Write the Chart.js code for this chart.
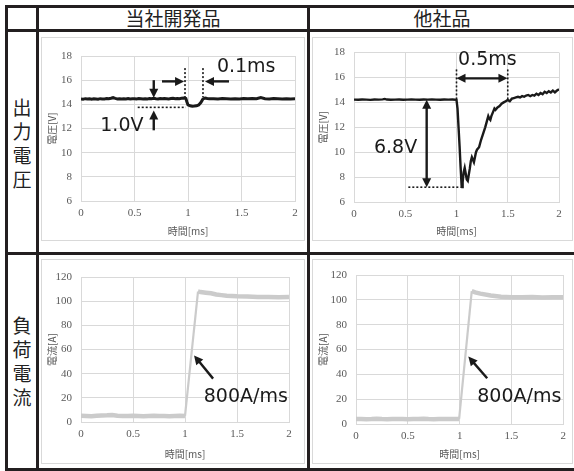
<!DOCTYPE html>
<html><head><meta charset="utf-8">
<script src="https://cdn.jsdelivr.net/npm/chart.js@4"></script>
<style>
body{margin:0;background:#fff;}
#wrap{position:relative;width:574px;height:471px;overflow:hidden;font-family:"Noto Sans CJK JP";}
.hl{position:absolute;background:#231f20;height:3px;}
.vl{position:absolute;background:#231f20;width:3px;}
.panel{position:absolute;border:1px solid #d9d9d9;box-sizing:border-box;background:#fff;}
canvas.c{position:absolute;}
.hdr{position:absolute;font-size:19px;color:#222;text-align:center;line-height:24px;}
</style></head>
<body>
<div id="wrap">
  <div class="panel" style="left:41px;top:37px;width:264px;height:204px"></div>
  <div class="panel" style="left:312px;top:37px;width:261px;height:204px"></div>
  <div class="panel" style="left:41px;top:259px;width:264px;height:205px"></div>
  <div class="panel" style="left:312px;top:259px;width:261px;height:205px"></div>
  <canvas class="c" id="tl" width="263" height="203" style="left:41px;top:37px"></canvas>
  <canvas class="c" id="tr" width="260" height="203" style="left:312px;top:37px"></canvas>
  <canvas class="c" id="bl" width="263" height="204" style="left:41px;top:259px"></canvas>
  <canvas class="c" id="br" width="260" height="204" style="left:312px;top:259px"></canvas>

  <div class="hl" style="left:5px;top:5px;width:569px"></div>
  <div class="hl" style="left:5px;top:29px;width:569px"></div>
  <div class="hl" style="left:5px;top:252px;width:569px"></div>
  <div class="hl" style="left:5px;top:468px;width:569px"></div>
  <div class="vl" style="left:5px;top:5px;height:466px"></div>
  <div class="vl" style="left:36px;top:5px;height:466px"></div>
  <div class="vl" style="left:307px;top:5px;height:466px"></div>

  <div class="hdr" style="left:39px;top:6px;width:268px;">当社開発品</div>
  <div class="hdr" style="left:310px;top:6px;width:264px;">他社品</div>
  <div class="hdr" style="left:8px;top:95px;width:28px;">出<br>力<br>電<br>圧</div>
  <div class="hdr" style="left:8px;top:313px;width:28px;">負<br>荷<br>電<br>流</div>
</div>
<script>
// ---- data ----
const xTicks = [0, 0.5, 1, 1.5, 2];
const voltTicks = [6, 8, 10, 12, 14, 16, 18];
const currTicks = [0, 20, 40, 60, 80, 100, 120];

const tlTime = [0,0.02,0.04,0.06,0.08,0.10,0.12,0.14,0.16,0.18,0.20,0.22,0.24,0.26,0.28,0.30,0.32,0.34,0.36,0.38,0.40,0.42,0.44,0.46,0.48,0.50,0.52,0.54,0.56,0.58,0.60,0.62,0.64,0.66,0.68,0.70,0.72,0.74,0.76,0.78,0.80,0.82,0.84,0.86,0.88,0.90,0.92,0.94,0.96,0.98,0.99,1.00,1.02,1.04,1.06,1.08,1.10,1.12,1.14,1.16,1.18,1.20,1.24,1.28,1.32,1.36,1.40,1.44,1.48,1.52,1.56,1.60,1.64,1.68,1.72,1.76,1.80,1.84,1.88,1.92,1.96,2.00];
const tlVolt = [14.45,14.43,14.47,14.44,14.46,14.42,14.46,14.45,14.43,14.47,14.45,14.44,14.48,14.46,14.50,14.55,14.49,14.45,14.47,14.44,14.46,14.45,14.48,14.44,14.46,14.47,14.45,14.48,14.46,14.44,14.47,14.45,14.48,14.46,14.50,14.47,14.45,14.48,14.46,14.49,14.47,14.45,14.48,14.50,14.47,14.49,14.47,14.50,14.52,14.48,14.20,13.95,13.88,13.85,13.86,13.88,13.95,14.15,14.45,14.52,14.48,14.46,14.47,14.45,14.48,14.46,14.44,14.47,14.45,14.48,14.46,14.49,14.47,14.56,14.47,14.45,14.48,14.46,14.44,14.47,14.45,14.46];

const trTime = [0,0.04,0.08,0.12,0.16,0.20,0.24,0.28,0.30,0.32,0.36,0.40,0.44,0.48,0.52,0.56,0.60,0.64,0.68,0.72,0.76,0.80,0.84,0.88,0.92,0.96,1.00,1.01,1.02,1.03,1.04,1.05,1.055,1.06,1.07,1.08,1.09,1.10,1.11,1.12,1.13,1.14,1.15,1.16,1.17,1.18,1.19,1.20,1.22,1.23,1.24,1.26,1.28,1.30,1.31,1.32,1.33,1.34,1.35,1.37,1.38,1.40,1.42,1.44,1.46,1.48,1.50,1.52,1.54,1.56,1.58,1.60,1.62,1.64,1.66,1.68,1.70,1.72,1.74,1.76,1.78,1.80,1.82,1.84,1.86,1.88,1.90,1.92,1.94,1.96,1.98,2.00];
const trVolt = [14.22,14.21,14.23,14.22,14.20,14.23,14.22,14.24,14.28,14.23,14.21,14.22,14.23,14.21,14.22,14.24,14.22,14.21,14.23,14.22,14.24,14.22,14.21,14.23,14.22,14.23,14.20,13.5,12.0,10.5,8.8,7.3,7.2,7.6,8.4,8.75,8.3,7.8,7.7,8.2,8.7,9.3,9.6,9.4,9.2,9.6,10.0,10.2,10.4,10.7,11.0,11.5,12.0,12.6,12.9,12.7,12.6,12.9,13.1,13.5,13.4,13.6,13.7,13.9,14.0,14.1,14.2,14.1,14.3,14.35,14.4,14.45,14.4,14.5,14.45,14.55,14.6,14.5,14.6,14.55,14.7,14.6,14.75,14.65,14.85,14.75,14.9,14.8,14.95,14.8,14.95,15.05];

const blTime = [0,0.05,0.10,0.15,0.20,0.25,0.30,0.35,0.40,0.45,0.50,0.55,0.60,0.65,0.70,0.75,0.80,0.85,0.90,0.95,1.00,1.125,1.15,1.20,1.25,1.30,1.35,1.40,1.50,1.60,1.70,1.80,1.90,2.00];
const blCurr = [5.2,5.0,4.8,5.1,5.3,5.5,5.8,5.2,5.0,4.9,5.1,5.0,4.8,5.0,5.2,4.9,5.0,4.8,5.0,5.1,5.0,108,107.5,107,106.5,105.5,105,104.5,104,103.8,103.5,103.5,103.2,103.5];

const brTime = [0,0.05,0.10,0.15,0.20,0.25,0.30,0.35,0.40,0.45,0.50,0.55,0.60,0.65,0.70,0.75,0.80,0.85,0.90,0.95,0.995,1.117,1.15,1.20,1.30,1.40,1.50,1.60,1.70,1.80,1.90,2.00];
const brCurr = [4.0,4.1,3.9,4.0,4.2,4.0,3.9,4.1,4.0,4.0,3.9,4.1,4.0,4.2,4.0,3.9,4.0,4.1,4.0,4.0,4.0,107,106,105,103.5,102.5,102,102,102.2,101.8,102,102];

// ---- annotations (data units) ----
const tlNotes = {
  dotted: [[0.53,13.75,0.98,13.75],[0.972,17.0,0.972,14.6],[1.14,17.0,1.14,14.6]],
  arrows: [[0.68,16.0,0.68,14.55,'end'],[0.68,11.85,0.68,13.5,'end'],[0.757,15.9,0.963,15.9,'end'],[1.383,15.9,1.159,15.9,'end']],
  texts: [['1.0V',0.18,11.77],['0.1ms',1.27,16.68]]
};
const trNotes = {
  dotted: [[1.0,16.65,1.0,14.25],[1.5,16.65,1.5,14.25],[0.53,7.19,1.05,7.19]],
  arrows: [[1.0,15.93,1.497,15.93,'both'],[0.709,14.22,0.709,7.19,'both']],
  texts: [['0.5ms',1.015,17.0],['6.8V',0.195,9.97]]
};
const blNotes = { dotted: [], arrows: [[1.27,35.9,1.087,55.1,'end']], texts: [['800A/ms',1.18,16.5]] };
const brNotes = { dotted: [], arrows: [[1.266,36.9,1.084,54.3,'end']], texts: [['800A/ms',1.17,18.0]] };

const notePlugin = {
  id: 'notes',
  afterDatasetsDraw(chart) {
    const n = chart.options.plugins.notes;
    if (!n) return;
    const {ctx, scales: {x, y}} = chart;
    ctx.save();
    ctx.strokeStyle = '#1a1a1a'; ctx.fillStyle = '#1a1a1a';
    ctx.lineWidth = 1.6; ctx.setLineDash([2, 2]);
    n.dotted.forEach(d => {
      ctx.beginPath();
      ctx.moveTo(x.getPixelForValue(d[0]), y.getPixelForValue(d[1]));
      ctx.lineTo(x.getPixelForValue(d[2]), y.getPixelForValue(d[3]));
      ctx.stroke();
    });
    ctx.setLineDash([]);
    const head = (px, py, ang) => {
      const L = 9, W = 4.5;
      ctx.beginPath();
      ctx.moveTo(px, py);
      ctx.lineTo(px - L*Math.cos(ang) + W*Math.sin(ang), py - L*Math.sin(ang) - W*Math.cos(ang));
      ctx.lineTo(px - L*Math.cos(ang) - W*Math.sin(ang), py - L*Math.sin(ang) + W*Math.cos(ang));
      ctx.closePath(); ctx.fill();
    };
    ctx.lineWidth = 2.4;
    n.arrows.forEach(a => {
      let x1 = x.getPixelForValue(a[0]), y1 = y.getPixelForValue(a[1]);
      let x2 = x.getPixelForValue(a[2]), y2 = y.getPixelForValue(a[3]);
      const ang = Math.atan2(y2 - y1, x2 - x1);
      const sx = x1 + (a[4] === 'both' ? 6*Math.cos(ang) : 0), sy = y1 + (a[4] === 'both' ? 6*Math.sin(ang) : 0);
      ctx.beginPath();
      ctx.moveTo(sx, sy);
      ctx.lineTo(x2 - 6*Math.cos(ang), y2 - 6*Math.sin(ang));
      ctx.stroke();
      head(x2, y2, ang);
      if (a[4] === 'both') head(x1, y1, ang + Math.PI);
    });
    ctx.font = '19px "DejaVu Sans"';
    ctx.textAlign = 'left'; ctx.textBaseline = 'alphabetic';
    n.texts.forEach(t => ctx.fillText(t[0], x.getPixelForValue(t[1]), y.getPixelForValue(t[2])));
    ctx.restore();
  }
};

function makeChart(id, times, vals, color, width, steepWidth, yMin, yMax, yTitle, notes, lay) {
  new Chart(document.getElementById(id), {
    type: 'line',
    data: { datasets: [{ data: times.map((t, i) => ({x: t, y: vals[i]})), borderColor: color, borderWidth: width, pointRadius: 0, tension: 0, fill: false,
      segment: { borderWidth: c => Math.abs(c.p1.y - c.p0.y) > 30 ? steepWidth : width } }] },
    options: {
      responsive: false, animation: false, devicePixelRatio: 1,
      layout: { padding: { left: 0, right: lay.right, top: lay.top, bottom: 0 } },
      plugins: { legend: { display: false }, tooltip: { enabled: false }, notes: notes },
      scales: {
        x: { type: 'linear', min: 0, max: 2,
          afterBuildTicks: s => { s.ticks = xTicks.map(v => ({value: v})); },
          ticks: { color: '#595959', font: { family: 'Liberation Serif', size: 11 }, padding: 6, maxRotation: 0, autoSkip: false, callback: v => String(v) },
          grid: { color: '#d9d9d9', drawTicks: false }, border: { color: '#d9d9d9' },
          title: { display: true, text: '時間[ms]', color: '#595959', font: { family: 'Noto Sans CJK JP', size: 10 }, padding: { top: 0, bottom: 3 } },
          afterFit: s => { s.height = lay.xh; } },
        y: { type: 'linear', min: yMin, max: yMax,
          afterBuildTicks: s => { s.ticks = (yMax > 50 ? currTicks : voltTicks).map(v => ({value: v})); },
          ticks: { color: '#595959', font: { family: 'Liberation Serif', size: 11 }, padding: 9, autoSkip: false },
          grid: { color: '#d9d9d9', drawTicks: false }, border: { color: '#d9d9d9' },
          title: { display: true, text: yTitle, color: '#595959', font: { family: 'Noto Sans CJK JP', size: 10 }, padding: { top: 5, bottom: 0 } },
          afterFit: s => { s.width = lay.yw; } }
      }
    },
    plugins: [notePlugin]
  });
}

makeChart('tl', tlTime, tlVolt, '#1a1a1a', 3, 2.4, 6, 18, '電圧[V]', tlNotes, {right: 9, top: 19, xh: 39, yw: 40});
makeChart('tr', trTime, trVolt, '#1a1a1a', 2.4, 2.0, 6, 18, '電圧[V]', trNotes, {right: 13, top: 14, xh: 38, yw: 42});
makeChart('bl', blTime, blCurr, '#cbcbcb', 4.5, 2.2, 0, 120, '電流[A]', blNotes, {right: 15, top: 18, xh: 41, yw: 40});
makeChart('br', brTime, brCurr, '#cbcbcb', 4.5, 2.2, 0, 120, '電流[A]', brNotes, {right: 7, top: 16, xh: 39, yw: 44});
</script>
</body></html>
